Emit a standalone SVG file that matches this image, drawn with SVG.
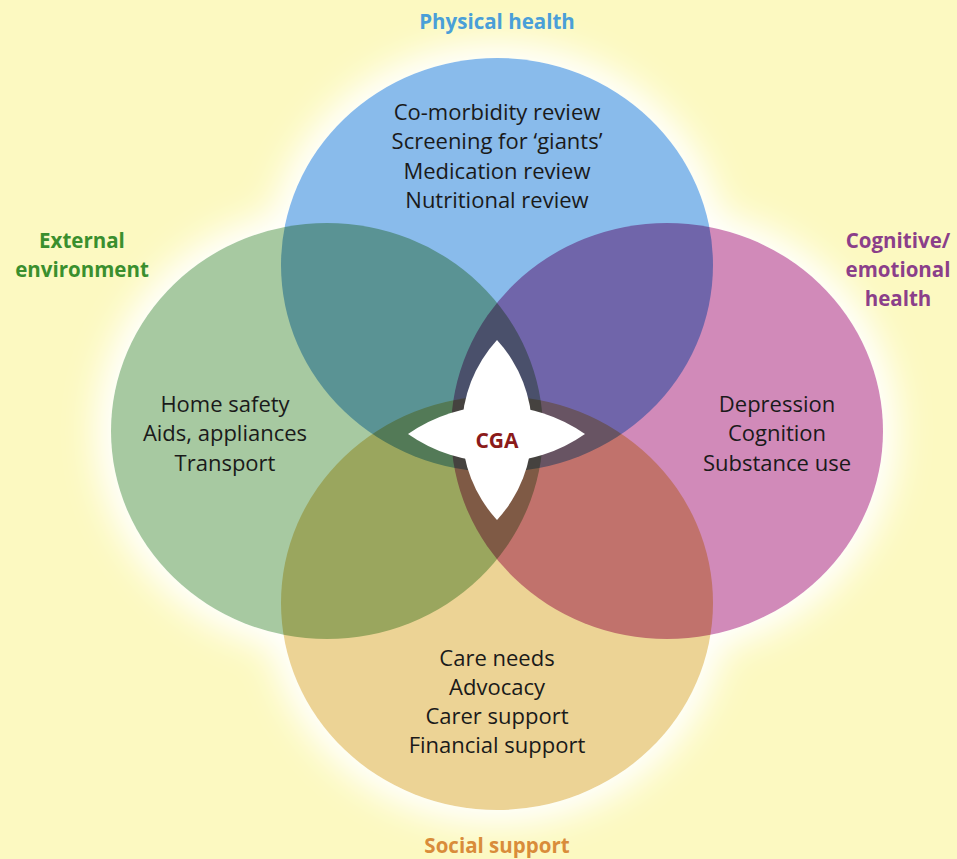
<svg xmlns="http://www.w3.org/2000/svg" width="957" height="859" viewBox="0 0 957 859">
  <style>
    .body { font-family: "Open Sans", "Noto Sans", "Liberation Sans", sans-serif; font-size: 22px; fill: #1a1a1a; text-anchor: middle; }
    .title { font-family: "Open Sans", "Noto Sans", "Liberation Sans", sans-serif; font-size: 20.5px; font-weight: bold; text-anchor: middle; }
    .disc { mix-blend-mode: multiply; }
  </style>
  <defs>
    <filter id="glow" x="-20%" y="-20%" width="140%" height="140%">
      <feGaussianBlur stdDeviation="17"/>
    </filter>
  </defs>

  <!-- page background -->
  <rect width="957" height="859" fill="#fcf9c1"/>

  <!-- soft white halo behind the four domains -->
  <g filter="url(#glow)" fill="#ffffff" stroke="#ffffff" stroke-width="30">
    <ellipse cx="497" cy="265" rx="216" ry="207"/>
    <ellipse cx="497" cy="603" rx="216" ry="207"/>
    <ellipse cx="327" cy="431" rx="216" ry="208"/>
    <ellipse cx="667" cy="431" rx="216" ry="208"/>
  </g>

  <!-- overlapping domains, blended so the overlaps darken -->
  <g style="isolation:isolate">
    <g fill="#ffffff">
      <ellipse cx="497" cy="265" rx="216" ry="207"/>
      <ellipse cx="497" cy="603" rx="216" ry="207"/>
      <ellipse cx="327" cy="431" rx="216" ry="208"/>
      <ellipse cx="667" cy="431" rx="216" ry="208"/>
    </g>
    <ellipse id="physical-disc" class="disc" cx="497" cy="265" rx="216" ry="207" fill="#89bbeb"/>
    <ellipse id="external-disc" class="disc" cx="327" cy="431" rx="216" ry="208" fill="#a7c9a1"/>
    <ellipse id="cognitive-disc" class="disc" cx="667" cy="431" rx="216" ry="208" fill="#d18ab9"/>
    <ellipse id="social-disc" class="disc" cx="497" cy="603" rx="216" ry="207" fill="#ecd395"/>
  </g>

  <!-- Physical health -->
  <g id="physical-health">
    <text class="title" x="497" y="29" fill="#4a9fd8">Physical health</text>
    <text class="body" x="497" y="120">Co-morbidity review</text>
    <text class="body" x="497" y="149">Screening for ‘giants’</text>
    <text class="body" x="497" y="179">Medication review</text>
    <text class="body" x="497" y="208">Nutritional review</text>
  </g>

  <!-- External environment -->
  <g id="external-environment">
    <text class="title" x="82" y="248" fill="#3a8f2e">External</text>
    <text class="title" x="82" y="277" fill="#3a8f2e">environment</text>
    <text class="body" x="225" y="412">Home safety</text>
    <text class="body" x="225" y="441">Aids, appliances</text>
    <text class="body" x="225" y="471">Transport</text>
  </g>

  <!-- Cognitive / emotional health -->
  <g id="cognitive-health">
    <text class="title" x="898" y="248" fill="#8b3f8a">Cognitive/</text>
    <text class="title" x="898" y="277" fill="#8b3f8a">emotional</text>
    <text class="title" x="898" y="306" fill="#8b3f8a">health</text>
    <text class="body" x="777" y="412">Depression</text>
    <text class="body" x="777" y="441">Cognition</text>
    <text class="body" x="777" y="471">Substance use</text>
  </g>

  <!-- Social support -->
  <g id="social-support">
    <text class="title" x="497" y="853" fill="#d98c3a">Social support</text>
    <text class="body" x="497" y="666">Care needs</text>
    <text class="body" x="497" y="695">Advocacy</text>
    <text class="body" x="497" y="724">Carer support</text>
    <text class="body" x="497" y="753">Financial support</text>
  </g>

  <!-- central four-pointed star -->
  <g id="cga">
    <path fill="#ffffff" d="M497,340 A133,133 0 0 1 497,520 A133,133 0 0 1 497,340 Z"/>
    <path fill="#ffffff" d="M408,434 A154,154 0 0 1 585,434 A154,154 0 0 1 408,434 Z"/>
    <text x="497" y="442" font-family="'Open Sans', 'Noto Sans', 'Liberation Sans', sans-serif" font-size="21" font-weight="bold" fill="#8b1a1a" text-anchor="middle" dominant-baseline="middle">CGA</text>
  </g>
</svg>
